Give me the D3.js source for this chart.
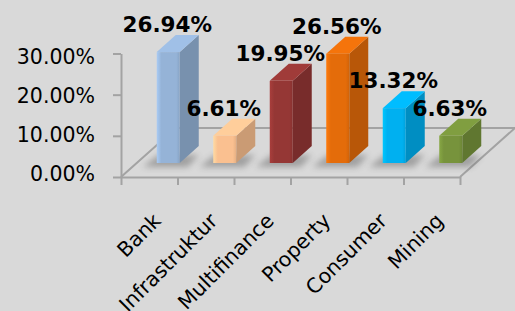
<!DOCTYPE html>
<html>
<head>
<meta charset="utf-8">
<script src="https://cdn.jsdelivr.net/npm/d3@7"></script>
<style>
  html, body { margin: 0; padding: 0; background: #d9d9d9; }
  svg { display: block; }
</style>
</head>
<body>
<div id="chart"></div>
<script>
const categories = ["Bank", "Infrastruktur", "Multifinance", "Property", "Consumer", "Mining"];
const values = [26.94, 6.61, 19.95, 26.56, 13.32, 6.63];
const colors = ["#95b3d7", "#fac090", "#953735", "#e46c0a", "#00b0f0", "#77933c"];
const yTicks = [0, 10, 20, 30];

const width = 515, height = 311;
const left = 121, right = 460;
const floorDepth = { dx: 55, dy: -49 };
const barOffset = { dx: 19, dy: -14 };
const barDepth = { dx: 19, dy: -17 };
const barWidth = 23;
const lineColor = "#a3a3a3";

const svg = d3.select("#chart").append("svg")
    .attr("width", width)
    .attr("height", height);

const defs = svg.append("defs");
defs.append("filter")
    .attr("id", "blur")
    .attr("x", "-50%").attr("y", "-50%").attr("width", "200%").attr("height", "200%")
    .append("feGaussianBlur")
    .attr("stdDeviation", 3);

const xScale = d3.scaleBand()
    .domain(categories)
    .range([left, right]);

const edgeScale = d3.scaleLinear()
    .domain([0, categories.length])
    .range([left, right]);

const yScale = d3.scaleLinear()
    .domain([0, 30])
    .range([177, 53.5]);

// tick labels sit on a slightly compressed plane
const yLabel = d3.scaleLinear()
    .domain([0, 30])
    .range([174, 57]);

const y0 = yScale(0);

// floor outline
const floor = d3.path();
floor.moveTo(left, y0);
floor.lineTo(left + floorDepth.dx, y0 + floorDepth.dy);
floor.lineTo(width + 5, y0 + floorDepth.dy);
floor.moveTo(right, y0);
floor.lineTo(right + floorDepth.dx, y0 + floorDepth.dy);
svg.append("path")
    .attr("d", floor.toString())
    .attr("fill", "none")
    .attr("stroke", lineColor)
    .attr("stroke-width", 2);

// axes
const yAxis = svg.append("g")
    .attr("transform", `translate(${left},0)`)
    .call(d3.axisLeft(yScale).tickValues(yTicks).tickSize(8).tickSizeOuter(0).tickFormat(""));

const xAxis = svg.append("g")
    .attr("transform", `translate(0,${y0})`)
    .call(d3.axisBottom(edgeScale).ticks(categories.length).tickSize(8).tickSizeOuter(0).tickFormat(""));

[yAxis, xAxis].forEach(g => {
    g.selectAll("path, line").attr("stroke", lineColor).attr("stroke-width", 2);
});

svg.selectAll(".ylab")
    .data(yTicks)
    .enter()
    .append("text")
    .attr("class", "ylab")
    .attr("x", 95)
    .attr("y", d => yLabel(d))
    .attr("dy", "0.36em")
    .attr("text-anchor", "end")
    .style("font-family", "'DejaVu Sans', sans-serif")
    .style("font-size", "20.5px")
    .attr("fill", "#000")
    .text(d => d.toFixed(2) + "%");

// bars
const data = categories.map((c, i) => ({ cat: c, value: values[i], color: colors[i] }));

data.forEach((d, i) => {
    const grad = defs.append("linearGradient")
        .attr("id", "g" + i)
        .attr("x1", "0").attr("x2", "1").attr("y1", "0").attr("y2", "0");
    const c = d3.color(d.color);
    grad.append("stop").attr("offset", "0").attr("stop-color", c.brighter(0.35));
    grad.append("stop").attr("offset", "0.2").attr("stop-color", c);
    grad.append("stop").attr("offset", "0.85").attr("stop-color", c);
    grad.append("stop").attr("offset", "1").attr("stop-color", c.darker(0.25));
});

const bars = svg.selectAll(".bar")
    .data(data)
    .enter()
    .append("g")
    .attr("class", "bar");

const fx = d => xScale(d.cat) + xScale.bandwidth() / 2 + barOffset.dx - barWidth / 2;
const fb = () => y0 + barOffset.dy;
const ft = d => yScale(d.value) + barOffset.dy;

// shadow
bars.append("polygon")
    .attr("points", d => {
        const x = fx(d), b = fb();
        return [[x - 14, b + 4], [x + barWidth + 8, b + 4], [x + barWidth + barDepth.dx, b - 8], [x + 2, b - 8]].join(" ");
    })
    .attr("fill", "#5a5a5a")
    .attr("opacity", 0.45)
    .attr("filter", "url(#blur)");

// side
bars.append("polygon")
    .attr("points", d => {
        const x = fx(d) + barWidth, b = fb(), t = ft(d);
        return [[x, b], [x, t], [x + barDepth.dx, t + barDepth.dy], [x + barDepth.dx, b + barDepth.dy]].join(" ");
    })
    .attr("fill", d => d3.color(d.color).darker(0.6));

// top
bars.append("polygon")
    .attr("points", d => {
        const x = fx(d), t = ft(d);
        return [[x, t], [x + barWidth, t], [x + barWidth + barDepth.dx, t + barDepth.dy], [x + barDepth.dx, t + barDepth.dy]].join(" ");
    })
    .attr("fill", d => d3.color(d.color).brighter(0.2));

// front
bars.append("rect")
    .attr("x", fx)
    .attr("y", ft)
    .attr("width", barWidth)
    .attr("height", d => fb() - ft(d))
    .attr("fill", (d, i) => `url(#g${i})`);

// value labels
bars.append("text")
    .attr("x", d => fx(d) + barWidth / 2 - 1)
    .attr("y", d => ft(d) + barDepth.dy - 3)
    .attr("text-anchor", "middle")
    .style("font-family", "'DejaVu Sans', sans-serif")
    .style("font-size", "21.5px")
    .style("font-weight", "bold")
    .attr("fill", "#000")
    .text(d => d.value.toFixed(2) + "%");

// category labels
svg.selectAll(".xlab")
    .data(categories)
    .enter()
    .append("text")
    .attr("class", "xlab")
    .attr("transform", d => `translate(${xScale(d) + xScale.bandwidth() / 2 + 13},222) rotate(-45)`)
    .attr("text-anchor", "end")
    .style("font-family", "'DejaVu Sans', sans-serif")
    .style("font-size", "20.5px")
    .attr("fill", "#000")
    .text(d => d);
</script>
</body>
</html>
